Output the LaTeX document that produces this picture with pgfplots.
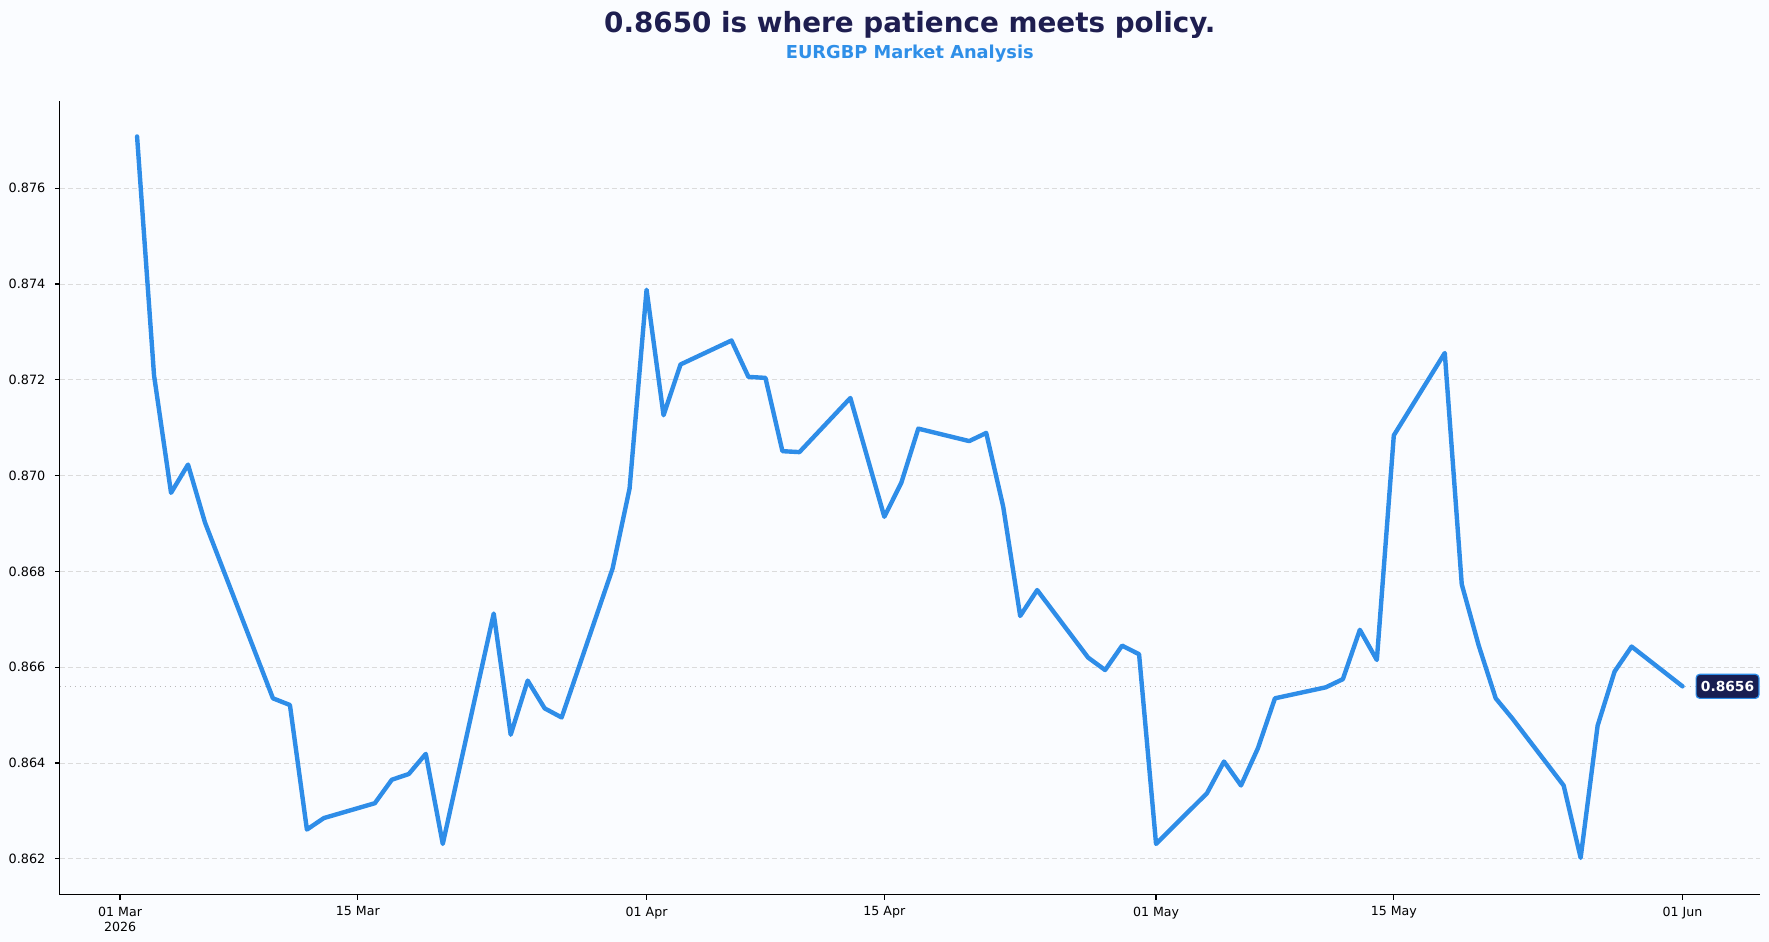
\documentclass[border=0pt]{standalone}
\usepackage{fontspec}
\setmainfont{DejaVu Sans}
\usepackage{pgfplots}
\pgfplotsset{compat=1.18}

\definecolor{bg}{RGB}{250,252,255}
\definecolor{lineblue}{RGB}{46,141,232}
\definecolor{navy}{RGB}{30,30,80}
\definecolor{boxnavy}{RGB}{24,30,82}
\definecolor{subblue}{RGB}{47,143,232}

% EURGBP closes, x = days since 1 Mar 2026
\pgfplotstableread{
day close
1 0.87708
2 0.87209
3 0.86964
4 0.87023
5 0.86902
9 0.86535
10 0.86521
11 0.86261
12 0.86285
15 0.86316
16 0.86365
17 0.86377
18 0.86419
19 0.86231
22 0.86712
23 0.86459
24 0.86572
25 0.86514
26 0.86495
29 0.86806
30 0.86973
31 0.87388
32 0.87126
33 0.87232
36 0.87282
37 0.87206
38 0.87204
39 0.87051
40 0.87049
43 0.87162
45 0.86914
46 0.86985
47 0.87098
50 0.87072
51 0.87089
52 0.86935
53 0.86707
54 0.86761
57 0.86620
58 0.86594
59 0.86645
60 0.86627
61 0.86231
64 0.86337
65 0.86403
66 0.86353
67 0.86431
68 0.86535
71 0.86558
72 0.86575
73 0.86678
74 0.86615
75 0.87084
78 0.87256
79 0.86773
80 0.86645
81 0.86535
82 0.86492
85 0.86353
86 0.86202
87 0.86478
88 0.86591
89 0.86643
92 0.86560
}\closes

\begin{document}
\begin{tikzpicture}
\fill[bg] (-29.9pt,-23.65pt) rectangle (854.6pt,447.35pt);

\node[anchor=base, text=navy, font=\fontsize{13.9}{16}\selectfont\bfseries]
  at (425pt,431pt) {0.8650 is where patience meets policy.};
\node[anchor=base, text=subblue, font=\fontsize{8.9}{10.5}\selectfont\bfseries]
  at (425pt,418pt) {EURGBP Market Analysis};

\begin{axis}[
  at={(0,0)}, anchor=south west,
  scale only axis, width=850pt, height=396.6pt,
  xmin=-3.55, xmax=96.55, ymin=0.86125, ymax=0.87781,
  clip=false,
  axis x line*=bottom, axis y line*=left,
  axis line style={line width=0.6pt, black},
  tick style={line width=0.6pt, black},
  tick align=outside, major tick length=2.5pt,
  xtick={0,14,31,45,61,75,92},
  xticklabels={{01 Mar\\2026},{15 Mar},{01 Apr},{15 Apr},{01 May},{15 May},{01 Jun}},
  xticklabel style={align=center, font=\fontsize{6.3}{7.5}\selectfont},
  ytick={0.862,0.864,0.866,0.868,0.870,0.872,0.874,0.876},
  scaled y ticks=false,
  /pgf/number format/assume math mode=true,
  yticklabel style={font=\fontsize{6.4}{7.5}\selectfont,
    /pgf/number format/fixed, /pgf/number format/fixed zerofill,
    /pgf/number format/precision=3, xshift=-1.2pt},
  ymajorgrids,
  major grid style={dash pattern=on 2.5pt off 1.5pt, line width=0.4pt, color=gray!28},
]
% last close reference line
\addplot[gray!55, dotted, line width=0.5pt] coordinates {(-3.55,0.8656) (96.55,0.8656)};
\addplot[lineblue, line width=2.2pt, line join=round, line cap=round] table[x=day, y=close] {\closes};
\node[anchor=west, xshift=6.5pt, fill=boxnavy, draw=lineblue, line width=0.6pt,
  rounded corners=1.8pt, text=white, inner xsep=2.4pt, inner ysep=3.4pt,
  font=\fontsize{6.9}{8}\selectfont\bfseries] at (axis cs:92,0.8656) {0.8656};
\end{axis}
\end{tikzpicture}
\end{document}
